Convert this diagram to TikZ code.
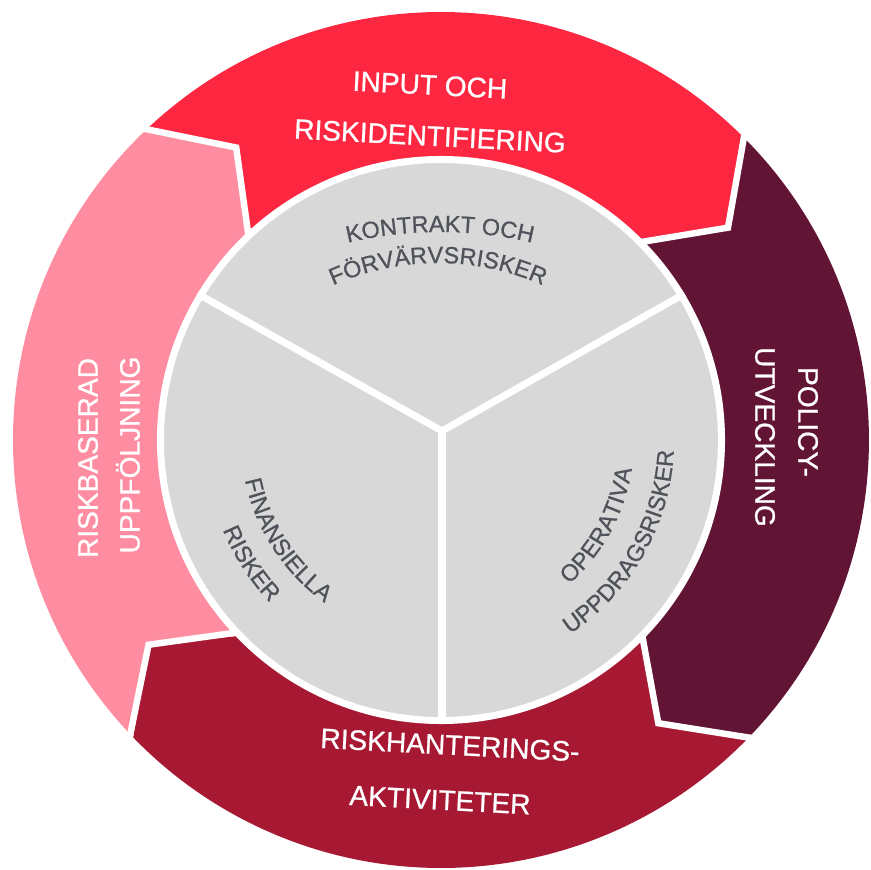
\documentclass[tikz,border=0pt]{standalone}
\usepackage{fontspec}
\setmainfont{Liberation Sans}[FakeBold=0.8]
\usetikzlibrary{decorations.text}

\definecolor{inputred}{HTML}{FE2741}
\definecolor{policyplum}{HTML}{621434}
\definecolor{actioncrimson}{HTML}{A71933}
\definecolor{followpink}{HTML}{FF8DA1}
\definecolor{coregray}{HTML}{D8D8D8}
\definecolor{coretext}{HTML}{4F5359}

\tikzset{
  ringlabel/.style={text=white, font=\fontsize{24}{28}\selectfont, inner sep=0pt},
  gap/.style={white, line width=5.5pt},
}

\newcommand{\corefont}{\fontsize{20}{24}\selectfont}
\newcommand{\arclabel}[5]{% arc centre, radius, from, to, text
  \path[decorate, decoration={text along path, text align=center,
    text color=coretext, text={|\corefont|#5}}]
    (#1) ++(#3:#2) arc[start angle=#3, end angle=#4, radius=#2];}

\begin{document}
\begin{tikzpicture}[x=0.03cm, y=0.03cm]
  \useasboundingbox (-441,-429) rectangle (430,440);

  % outer ring, four arrows running clockwise
  \fill[inputred] (134:428) arc[start angle=134, end angle=45.5, radius=428]
    -- (36.5:357) -- (45.5:282) arc[start angle=45.5, end angle=134, radius=282]
    -- (125:357) -- cycle;
  \fill[policyplum] (45.5:428) arc[start angle=45.5, end angle=-43.5, radius=428]
    -- (-52.5:357) -- (-43.5:282) arc[start angle=-43.5, end angle=45.5, radius=282]
    -- (36.5:357) -- cycle;
  \fill[actioncrimson] (-43.5:428) arc[start angle=-43.5, end angle=-136, radius=428]
    -- (-145:357) -- (-136:282) arc[start angle=-136, end angle=-43.5, radius=282]
    -- (-52.5:357) -- cycle;
  \fill[followpink] (224:428) arc[start angle=224, end angle=134, radius=428]
    -- (125:357) -- (134:282) arc[start angle=134, end angle=224, radius=282]
    -- (215:357) -- cycle;

  \draw[gap] (134:434) -- (125:357) -- (134:276);
  \draw[gap] (45.5:434) -- (36.5:357) -- (45.5:276);
  \draw[gap] (-43.5:434) -- (-52.5:357) -- (-43.5:276);
  \draw[gap] (224:434) -- (215:357) -- (224:276);

  % core
  \fill[coregray] (0,0) circle (280);
  \draw[white, line width=6pt] (0,0) circle (280.5);
  \coordinate (hub) at (1,9);
  \coordinate (kontraktL) at (149:284);
  \coordinate (kontraktR) at (31:284);
  \coordinate (bottom) at (1,-284);
  \draw[white, line width=6pt] (kontraktL) -- (hub) -- (kontraktR);
  \draw[white, line width=6pt] (hub) -- (bottom);

  \arclabel{-1,-192}{400}{120}{60}{KONTRAKT OCH}
  \arclabel{-3,-79}{256}{135}{45}{FÖRVÄRVSRISKER}
  \arclabel{0,0}{200}{173}{253}{FINANSIELLA}
  \arclabel{0,0}{236}{173}{253}{RISKER}
  \arclabel{0,0}{193}{-68.5}{11.5}{OPERATIVA}
  \arclabel{0,0}{233}{-70}{11}{UPPDRAGSRISKER}

  % ring labels
  \node[ringlabel, rotate=-3] (input) at (-11,355) {INPUT OCH};
  \node[ringlabel, rotate=-3] (riskid) at (-11,304) {RISKIDENTIFIERING};
  \node[ringlabel, rotate=-90] (policy) at (367,18) {POLICY-};
  \node[ringlabel, rotate=-90] (utveckling) at (324,3) {UTVECKLING};
  \node[ringlabel, rotate=-3] (riskhant) at (9,-305) {RISKHANTERINGS-};
  \node[ringlabel, rotate=-3] (aktiv) at (-1,-360) {AKTIVITETER};
  \node[ringlabel, rotate=90] (riskbas) at (-353,-18) {RISKBASERAD};
  \node[ringlabel, rotate=90] (uppfoljning) at (-313,-15) {UPPFÖLJNING};
\end{tikzpicture}
\end{document}
